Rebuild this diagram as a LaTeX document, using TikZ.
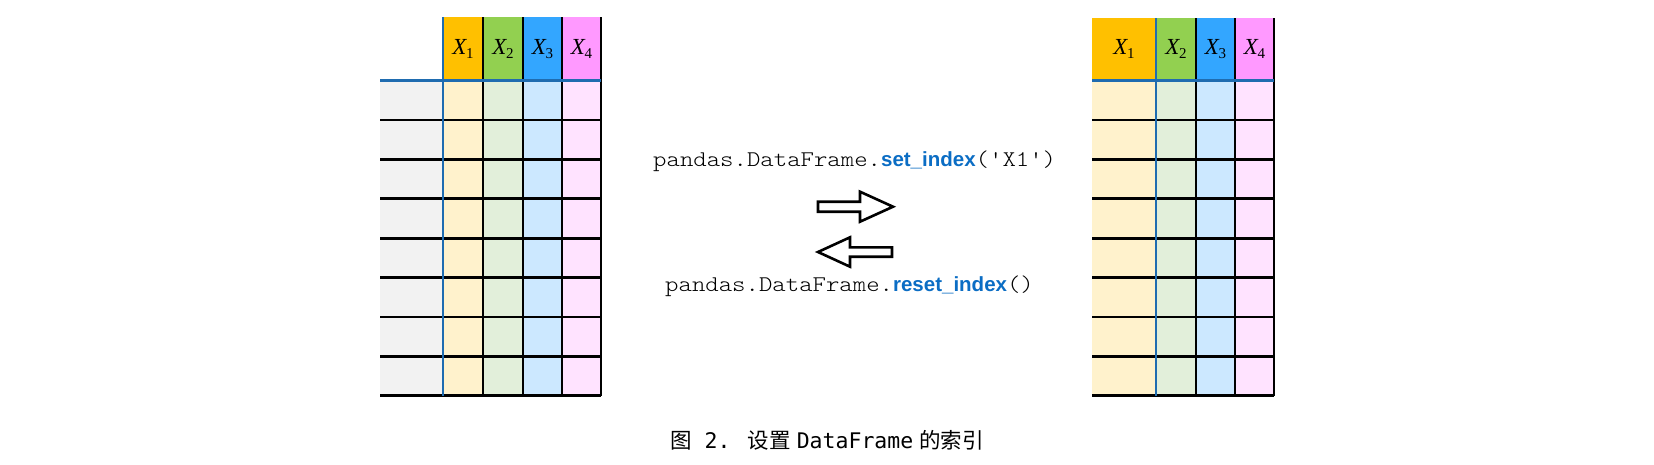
\documentclass[tikz,border=0pt]{standalone}
\usepackage{fontspec}
\setmainfont{Liberation Serif}
\newfontfamily\codefont{Latin Modern Mono Light}[FakeStretch=1.14]
\newfontfamily\boldsans{Liberation Sans}
\newfontfamily\capmono{DejaVu Sans Mono}
\newfontfamily\cjk{Noto Sans CJK SC}
\definecolor{hA}{HTML}{FFC000}
\definecolor{hB}{HTML}{92D050}
\definecolor{hC}{HTML}{33A6FF}
\definecolor{hD}{HTML}{FF99FF}
\definecolor{bA}{HTML}{FFF2CC}
\definecolor{bB}{HTML}{E2EFDA}
\definecolor{bC}{HTML}{CCE8FF}
\definecolor{bD}{HTML}{FFE3FF}
\definecolor{idxgray}{HTML}{F2F2F2}
\definecolor{lineblue}{HTML}{1F6CB0}
\definecolor{txtblue}{HTML}{0B6DC4}
\newcommand{\xlab}[1]{{\itshape X}\kern-0.5pt\raisebox{-4pt}{\fontsize{15}{15}\selectfont #1}}
\newcommand{\fnc}[1]{{\color{txtblue}\boldsans\bfseries\fontsize{20.5}{20.5}\selectfont #1}}
\begin{document}
\begin{tikzpicture}[x=1pt,y=-1pt,
  blk/.style={line width=2.8pt,draw=black},
  blu/.style={line width=2.8pt,draw=lineblue},
  hdr/.style={inner sep=0pt,font=\fontsize{23}{23}\selectfont},
  code/.style={inner sep=0pt,anchor=base west,font=\codefont\fontsize{22.4}{22.4}\selectfont},
  blockarrow/.style={line width=2.6pt,draw=black,fill=white,line join=miter}]
\useasboundingbox (0,0) rectangle (1654,464);

% ---------- left table ----------
\fill[hA] (443,17) rectangle (483,80.5);
\fill[hB] (483,17) rectangle (523,80.5);
\fill[hC] (523,17) rectangle (562,80.5);
\fill[hD] (562,17) rectangle (601,80.5);
\fill[idxgray] (380,80.5) rectangle (443,395.7);
\fill[bA] (443,80.5) rectangle (483,395.7);
\fill[bB] (483,80.5) rectangle (523,395.7);
\fill[bC] (523,80.5) rectangle (562,395.7);
\fill[bD] (562,80.5) rectangle (601,395.7);
\foreach \i in {1,...,8}{\draw[blk] (380,80.5+39.4*\i) -- (601,80.5+39.4*\i);}
\foreach \x in {483,523,562,601}{\draw[blk] (\x,17) -- (\x,395.7);}
\draw[blu] (380,80.5) -- (601,80.5);
\draw[blu] (443,17) -- (443,395.7);
\node[hdr] (l1) at (463,49) {\xlab{1}};
\node[hdr] (l2) at (503,49) {\xlab{2}};
\node[hdr] (l3) at (542.5,49) {\xlab{3}};
\node[hdr] (l4) at (581.5,49) {\xlab{4}};

% ---------- right table ----------
\fill[hA] (1092,18) rectangle (1156,80.5);
\fill[hB] (1156,18) rectangle (1196,80.5);
\fill[hC] (1196,18) rectangle (1235,80.5);
\fill[hD] (1235,18) rectangle (1274,80.5);
\fill[bA] (1092,80.5) rectangle (1156,395.7);
\fill[bB] (1156,80.5) rectangle (1196,395.7);
\fill[bC] (1196,80.5) rectangle (1235,395.7);
\fill[bD] (1235,80.5) rectangle (1274,395.7);
\foreach \i in {1,...,8}{\draw[blk] (1092,80.5+39.4*\i) -- (1274,80.5+39.4*\i);}
\foreach \x in {1196,1235,1274}{\draw[blk] (\x,18) -- (\x,395.7);}
\draw[blu] (1092,80.5) -- (1274,80.5);
\draw[blu] (1156,18) -- (1156,395.7);
\node[hdr] (r1) at (1124,49) {\xlab{1}};
\node[hdr] (r2) at (1176,49) {\xlab{2}};
\node[hdr] (r3) at (1215.5,49) {\xlab{3}};
\node[hdr] (r4) at (1254.5,49) {\xlab{4}};

% ---------- middle ----------
\node[code] (setidx) at (653,166.7) {pandas.DataFrame.\fnc{set\_index}('X1')};
\node[code] (resetidx) at (665,291.7) {pandas.DataFrame.\fnc{reset\_index}()};
\draw[blockarrow] (818,201.7) -- (860,201.7) -- (860,191.7) -- (893,206.7) -- (860,221.7) -- (860,211.7) -- (818,211.7) -- cycle;
\draw[blockarrow] (892,247.3) -- (850,247.3) -- (850,237.3) -- (818,252) -- (850,266.7) -- (850,256.7) -- (892,256.7) -- cycle;

% ---------- caption ----------
\node[inner sep=0pt,font=\capmono\fontsize{21.5}{21.5}\selectfont] (cap) at (827,440)
  {{\cjk 图} 2. {\cjk 设置}\hspace{6pt}DataFrame\hspace{6pt}{\cjk 的索引}};
\end{tikzpicture}
\end{document}
